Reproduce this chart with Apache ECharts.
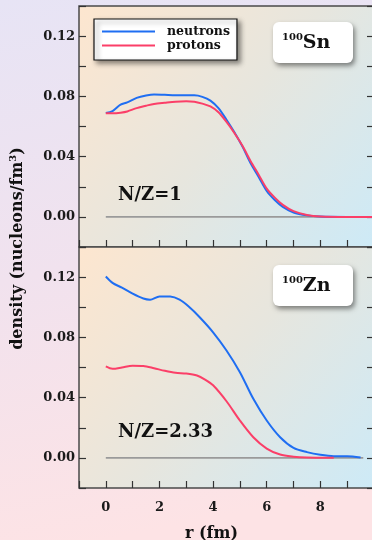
<!DOCTYPE html>
<html>
<head>
<meta charset="utf-8">
<script src="https://cdn.jsdelivr.net/npm/echarts@6/dist/echarts.min.js"></script>
<style>
html,body{margin:0;padding:0;background:#f0e4ef;}
#c{width:372px;height:540px;}
</style>
</head>
<body>
<div id="c"></div>
<script>
// ---- data ----
var xTicks = [0, 2, 4, 6, 8];
var yTicks = [0.00, 0.04, 0.08, 0.12];

// 100Sn panel
var rSn = [0, 0.25, 0.55, 0.8, 1.15, 1.5, 1.8, 2.2, 2.6, 3.0, 3.3, 3.6, 3.9, 4.2, 4.5, 4.8, 5.1, 5.4, 5.7, 6.0, 6.3, 6.6, 7.0, 7.5, 8.0, 9.0, 10.0];
var snNeutrons = [0.0690, 0.0702, 0.0745, 0.0760, 0.0790, 0.0806, 0.0813, 0.0810, 0.0807, 0.0807, 0.0807, 0.0797, 0.0772, 0.0722, 0.0645, 0.0560, 0.0465, 0.0355, 0.0265, 0.0172, 0.0112, 0.0066, 0.0029, 0.0010, 0.0002, 0, 0];
var snProtons = [0.0688, 0.0688, 0.0692, 0.0700, 0.0722, 0.0738, 0.0750, 0.0758, 0.0765, 0.0767, 0.0765, 0.0752, 0.0733, 0.0695, 0.0630, 0.0555, 0.0470, 0.0370, 0.0280, 0.0188, 0.0128, 0.0080, 0.0038, 0.0013, 0.0003, 0, 0];

// 100Zn panel
var rZnN = [0, 0.25, 0.6, 1.0, 1.4, 1.65, 2.0, 2.4, 2.75, 3.1, 3.5, 4.0, 4.5, 5.0, 5.5, 6.0, 6.5, 7.0, 7.5, 8.0, 8.5, 9.0, 9.5];
var znNeutrons = [0.1204, 0.1162, 0.1130, 0.1090, 0.1058, 0.1050, 0.1072, 0.1071, 0.1050, 0.1003, 0.0934, 0.0834, 0.0713, 0.0569, 0.0392, 0.0248, 0.0137, 0.0066, 0.0038, 0.0020, 0.0011, 0.0011, 0.0002];
var rZnP = [0, 0.25, 0.6, 1.0, 1.4, 1.8, 2.2, 2.6, 3.0, 3.4, 3.7, 4.0, 4.5, 5.0, 5.5, 6.0, 6.5, 7.0, 7.5, 8.0, 8.5];
var znProtons = [0.0607, 0.0591, 0.0600, 0.0612, 0.0610, 0.0595, 0.0578, 0.0565, 0.0560, 0.0547, 0.0520, 0.0482, 0.0376, 0.0248, 0.0137, 0.0062, 0.0022, 0.0008, 0.0002, 0.0001, 0.0001];

// zero reference lines
var zeroSn = [[0, 0], [10, 0]];
var zeroZn = [[0, 0], [9.6, 0]];

var panelLabels = ['Sn', 'Zn'];
var ratioLabels = ['N/Z=1', 'N/Z=2.33'];

// ---- chart ----
var FONT = "'DejaVu Serif', serif";
var BLUE = '#1f6ef2', RED = '#fb3f68', GRAY = '#9a9a9a';

function pairs(xs, ys) { return xs.map(function (x, i) { return [x, ys[i]]; }); }

var plotBg = {
  type: 'linear', x: 0, y: 0, x2: 1, y2: 1,
  colorStops: [
    { offset: 0, color: '#fde6cf' },
    { offset: 0.5, color: '#e7e6de' },
    { offset: 1, color: '#cdeaf7' }
  ]
};

function grid(top) {
  return {
    left: 79, top: top, width: 295, height: 241,
    outerBoundsMode: 'none', containLabel: false,
    show: true, backgroundColor: plotBg,
    borderColor: '#4a4a4a', borderWidth: 1.5
  };
}

function xAxis(idx, labels) {
  return {
    type: 'value', gridIndex: idx, min: -1, max: 10, interval: 1, position: 'bottom',
    axisLine: { show: false, onZero: false },
    splitLine: { show: false },
    axisTick: { show: true, inside: true, length: 7, lineStyle: { color: '#333', width: 1.2 } },
    axisLabel: {
      show: labels, margin: 13,
      fontFamily: FONT, fontWeight: 'bold', fontSize: 13, color: '#1a1a1a',
      formatter: function (v) { return xTicks.indexOf(Math.round(v)) >= 0 ? String(Math.round(v)) : ''; }
    }
  };
}

function yAxis(idx, pos) {
  return {
    type: 'value', gridIndex: idx, position: pos, min: -0.02, max: 0.14, interval: 0.02,
    axisLine: { show: false, onZero: false },
    splitLine: { show: false },
    axisTick: { show: true, inside: true, length: 7, lineStyle: { color: '#333', width: 1.2 } },
    axisLabel: {
      show: pos === 'left', margin: 4,
      fontFamily: FONT, fontWeight: 'bold', fontSize: 13, color: '#1a1a1a',
      formatter: function (v) {
        var k = Math.round(v * 100);
        for (var i = 0; i < yTicks.length; i++) {
          if (Math.round(yTicks[i] * 100) === k) return yTicks[i].toFixed(2);
        }
        return '';
      }
    }
  };
}

function line(name, data, color, xi, yi) {
  return {
    name: name, type: 'line', xAxisIndex: xi, yAxisIndex: yi,
    data: data, symbol: 'none', smooth: 0.3,
    lineStyle: { color: color, width: 2 }, itemStyle: { color: color },
    z: 3, silent: true
  };
}

function zero(data, xi, yi) {
  return {
    name: 'zero', type: 'line', xAxisIndex: xi, yAxisIndex: yi, data: data,
    symbol: 'none', lineStyle: { color: GRAY, width: 1.6 }, z: 2, silent: true
  };
}

function labelBox(y, el) {
  return {
    type: 'group', left: 273, top: y,
    children: [
      {
        type: 'rect', shape: { x: 0, y: 0, width: 80, height: 41, r: 6 },
        style: { fill: '#fff', shadowBlur: 5, shadowOffsetX: 2, shadowOffsetY: 3, shadowColor: 'rgba(0,0,0,0.45)' }
      },
      {
        type: 'text', x: 9, y: 21,
        style: {
          text: '{s|100}{b|' + el + '}', textAlign: 'left', verticalAlign: 'middle',
          rich: {
            s: { fontFamily: FONT, fontWeight: 'bold', fontSize: 10, fill: '#111', verticalAlign: 'top', lineHeight: 12 },
            b: { fontFamily: FONT, fontWeight: 'bold', fontSize: 19, fill: '#111', lineHeight: 22 }
          }
        }
      }
    ]
  };
}

var chart = echarts.init(document.getElementById('c'), null, { renderer: 'canvas' });
chart.setOption({
  animation: false,
  backgroundColor: {
    type: 'linear', x: 0, y: 0, x2: 0.3, y2: 1,
    colorStops: [
      { offset: 0, color: '#e7e4f5' },
      { offset: 0.5, color: '#f1e2ee' },
      { offset: 1, color: '#fde3e5' }
    ]
  },
  grid: [grid(6), grid(247)],
  xAxis: [xAxis(0, false), xAxis(1, true)],
  yAxis: [yAxis(0, 'left'), yAxis(0, 'right'), yAxis(1, 'left'), yAxis(1, 'right')],
  legend: {
    data: ['neutrons', 'protons'],
    left: 94, top: 19, orient: 'vertical',
    padding: [6, 7, 8, 7], itemGap: 1, itemWidth: 53, itemHeight: 14,
    backgroundColor: '#fff', borderColor: '#111', borderWidth: 1.2,
    shadowBlur: 5, shadowColor: 'rgba(0,0,0,0.45)', shadowOffsetX: 3, shadowOffsetY: 3,
    itemStyle: { opacity: 0 },
    lineStyle: { width: 2 },
    textStyle: { fontFamily: FONT, fontWeight: 'bold', fontSize: 12.5, color: '#111', padding: [0, 0, 0, 7] },
    selectedMode: false
  },
  series: [
    zero(zeroSn, 0, 0),
    line('neutrons', pairs(rSn, snNeutrons), BLUE, 0, 0),
    line('protons', pairs(rSn, snProtons), RED, 0, 0),
    zero(zeroZn, 1, 2),
    line('neutrons', pairs(rZnN, znNeutrons), BLUE, 1, 2),
    line('protons', pairs(rZnP, znProtons), RED, 1, 2)
  ],
  graphic: [
    labelBox(22, panelLabels[0]),
    labelBox(265, panelLabels[1]),
    {
      type: 'text', left: 118, top: 186,
      style: { text: ratioLabels[0], fontFamily: FONT, fontWeight: 'bold', fontSize: 18, fill: '#111' }
    },
    {
      type: 'text', left: 118, top: 423,
      style: { text: ratioLabels[1], fontFamily: FONT, fontWeight: 'bold', fontSize: 18, fill: '#111' }
    },
    {
      type: 'text', x: 18, y: 248.5, rotation: Math.PI / 2,
      style: {
        text: '{a|density (nucleons/fm}{s|3}{a|)}', textAlign: 'center', verticalAlign: 'middle',
        rich: {
          a: { fontFamily: FONT, fontWeight: 'bold', fontSize: 16, fill: '#111', lineHeight: 20 },
          s: { fontFamily: FONT, fontWeight: 'bold', fontSize: 10, fill: '#111', verticalAlign: 'top', lineHeight: 12 }
        }
      }
    },
    {
      type: 'text', x: 211.5, y: 526,
      style: { text: 'r (fm)', textAlign: 'center', verticalAlign: 'top', fontFamily: FONT, fontWeight: 'bold', fontSize: 16, fill: '#111' }
    }
  ]
});
</script>
</body>
</html>
